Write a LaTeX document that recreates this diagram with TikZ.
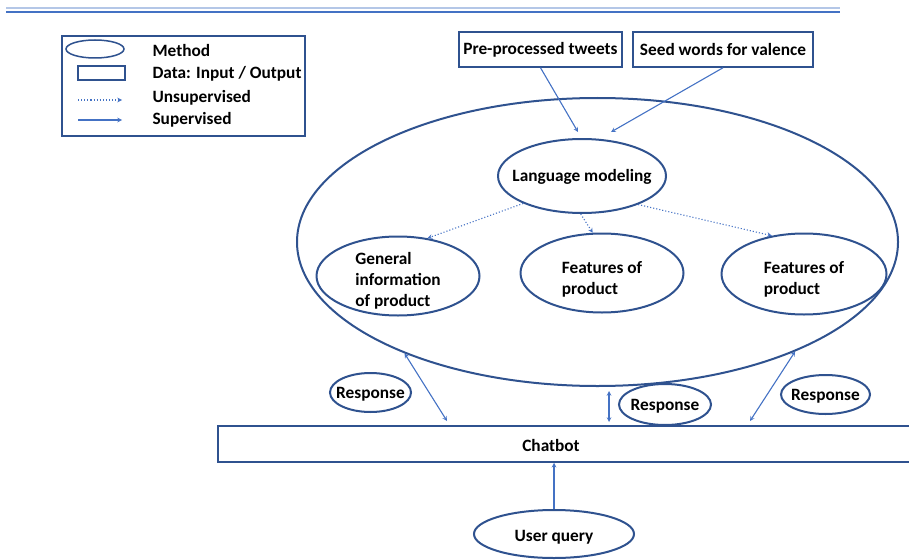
\documentclass[tikz,border=0pt]{standalone}
\usepackage{fontspec}
\setmainfont{Carlito}
\usetikzlibrary{shapes.geometric}
\definecolor{outl}{RGB}{47,82,143}
\definecolor{arr}{RGB}{68,114,196}
\definecolor{lightln}{RGB}{180,199,231}

\begin{document}
\begin{tikzpicture}[x=1pt,y=-1pt,
  font=\fontsize{17.3}{21}\selectfont\bfseries,
  method/.style={ellipse, draw=outl, line width=2pt, inner sep=0pt},
  lbl/.style={align=left, inner sep=0pt},
  data/.style={rectangle, draw=outl, line width=1.5pt},
  sup/.style={-stealth, arr, line width=1.1pt},
  unsup/.style={-stealth, arr, line width=1.1pt, dotted}]

  \useasboundingbox (0,0) rectangle (909,559);

  % title rule
  \draw[lightln, line width=2pt] (6,8.5) -- (840,8.5);
  \draw[arr, line width=1.5pt] (6,12) -- (840,12);

  % legend
  \node[data, line width=1.2pt, minimum width=243, minimum height=100] (leg) at (183.5,86) {};
  \node[method, line width=1.5pt, minimum width=58, minimum height=18] (legm) at (95,49) {};
  \node[data, minimum width=47, minimum height=14] (legd) at (101.5,73) {};
  \coordinate (legu1) at (78,100);
  \coordinate (legu2) at (122,100);
  \coordinate (legs1) at (78,120);
  \coordinate (legs2) at (122,120);
  \node[anchor=west] (legmt) at (149,50) {Method};
  \node[anchor=west] (legdt) at (149,74) {Data: Input / Output};
  \node[anchor=west] (legut) at (149,98) {Unsupervised};
  \node[anchor=west] (legst) at (149,120) {Supervised};
  \draw[unsup] (legu1) -- (legu2);
  \draw[sup] (legs1) -- (legs2);

  % inputs
  \node[data, minimum width=163, minimum height=35] (pre) at (540.5,49.5) {\raisebox{-2pt}{Pre-processed tweets}};
  \node[data, minimum width=180, minimum height=35] (seed) at (723,49.5) {\raisebox{-2pt}{Seed words for valence}};

  % methods
  \node[method, minimum width=601, minimum height=288] (big) at (597.5,242) {};
  \node[method, minimum width=168, minimum height=74,
    label={[lbl, yshift=-1pt]center:Language modeling}] (lm) at (582,176) {};
  \node[method, minimum width=163, minimum height=79,
    label={[lbl, yshift=-4.5pt]center:General\\information\\of product}] (gen) at (398,276) {};
  \node[method, minimum width=163, minimum height=79,
    label={[lbl, yshift=-6.5pt]center:Features of\\product}] (mid) at (602,273) {};
  \node[method, minimum width=165, minimum height=81,
    label={[lbl, yshift=-5.5pt]center:Features of\\product}] (rgt) at (804,274) {};

  \coordinate (prein) at (578,132);
  \coordinate (seedin) at (611,132);
  \draw[sup] (pre.south) -- (prein);
  \draw[sup] (seed.south) -- (seedin);

  \draw[unsup] (lm.205) -- (gen.52);
  \draw[unsup] (lm.268) -- (mid.103);
  \draw[unsup] (lm.333) -- (rgt.130);

  % chatbot
  \node[data, minimum width=722, minimum height=36] (chat) at (579,444) {};
  \node (chatt) at (551,445) {Chatbot};
  \node[method, minimum width=160, minimum height=48,
    label={[lbl, yshift=-3pt]center:User query}] (uq) at (554,534) {};
  \draw[sup] (uq.north) -- (uq.north |- chat.south);

  % responses
  \node[method, minimum width=81, minimum height=39,
    label={[lbl, yshift=-1.5pt]center:Response}] (resl) at (370.5,392.5) {};
  \node[method, minimum width=92, minimum height=41,
    label={[lbl, yshift=-1.5pt]center:Response}] (resm) at (665,404.5) {};
  \node[method, minimum width=89, minimum height=39,
    label={[lbl, yshift=-1.5pt]center:Response}] (resr) at (825.5,394.5) {};

  \coordinate (cl) at (447,421);
  \coordinate (cr) at (750,421);
  \coordinate (cm1) at (609,391);
  \coordinate (cm2) at (609,422);
  \draw[stealth-stealth, arr, line width=1.1pt] (big.210) -- (cl);
  \draw[stealth-stealth, arr, line width=1.1pt] (big.331) -- (cr);
  \draw[stealth-stealth, arr, line width=1.1pt] (cm1) -- (cm2);

\end{tikzpicture}
\end{document}
